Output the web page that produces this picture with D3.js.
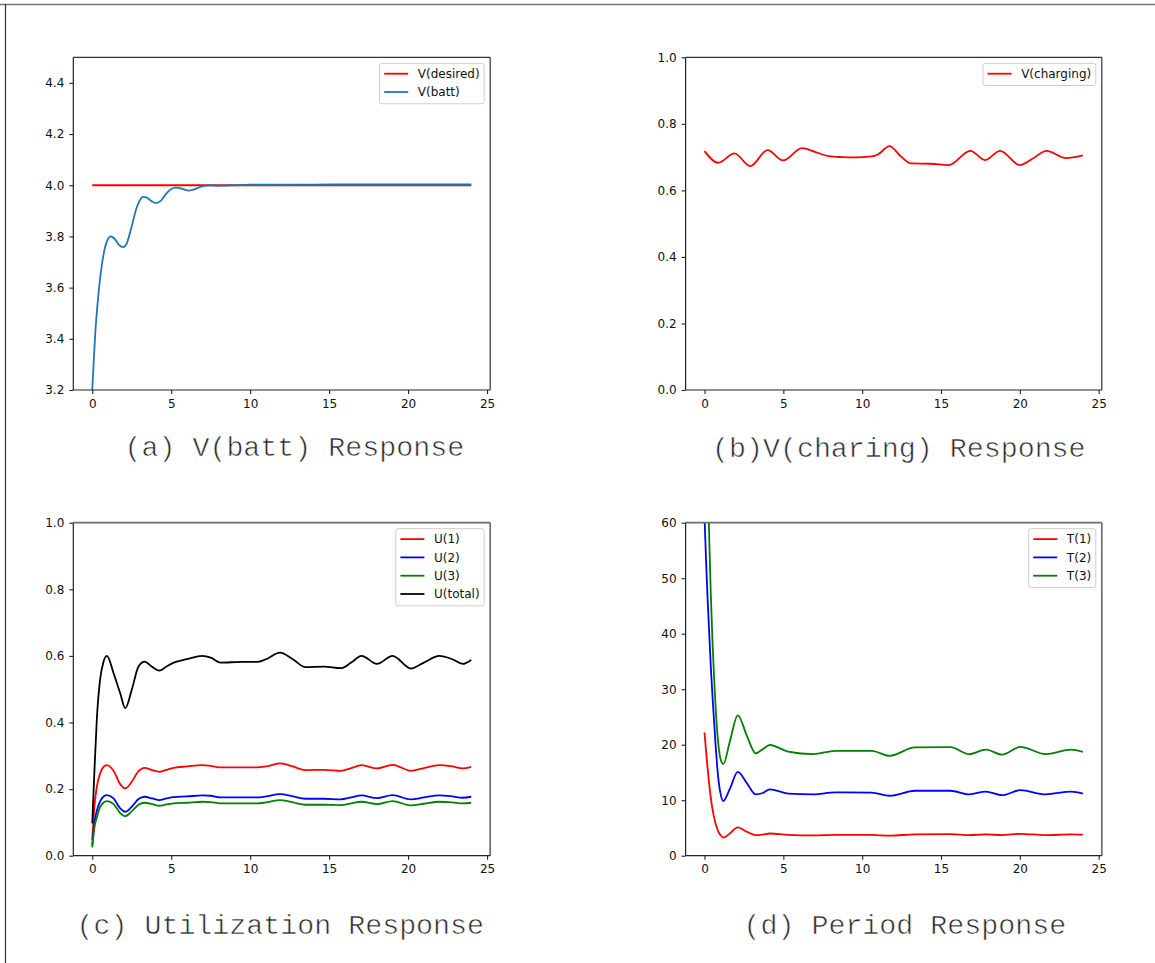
<!DOCTYPE html>
<html>
<head>
<meta charset="utf-8">
<script src="https://cdn.jsdelivr.net/npm/d3@7"></script>
<style>
  html, body { margin: 0; padding: 0; background: #fff; }
  svg { display: block; }
  .tick text { font-family: "DejaVu Sans", sans-serif; font-size: 12px; fill: #111; }
  .tick line { stroke: #222; }
  .legend text { font-family: "DejaVu Sans", sans-serif; font-size: 12px; fill: #111; }
  .caption { font-family: "Courier New", "Liberation Mono", monospace; font-size: 28.3px; fill: #2a2a2a;
             stroke: #fff; stroke-width: 0.6px; paint-order: normal; }
</style>
</head>
<body>
<svg id="fig" width="1155" height="963"></svg>
<script>
// ---------- data ----------
const xTicks = [0, 5, 10, 15, 20, 25];

// (a) battery voltage
const battT = [0, 0.1, 0.2, 0.3, 0.45, 0.6, 0.8, 1.0, 1.15, 1.4, 1.7, 1.95, 2.2, 2.5, 2.8, 3.0, 3.2, 3.45, 3.75, 4.05, 4.35, 4.7, 5.0, 5.3, 5.7, 6.1, 6.5, 7.0, 7.5, 8.0, 8.5, 9.0, 10, 12, 16, 20, 24];
const vBatt = [3.2, 3.32, 3.43, 3.51, 3.61, 3.685, 3.755, 3.79, 3.80, 3.792, 3.766, 3.758, 3.775, 3.84, 3.91, 3.94, 3.955, 3.952, 3.938, 3.93, 3.94, 3.968, 3.985, 3.991, 3.986, 3.979, 3.985, 3.997, 4.0, 3.998, 3.999, 4.0, 4.002, 4.002, 4.003, 4.003, 4.003];
const desiredT = [0, 24];
const vDesired = [4.0, 4.0];
const battTicks = [3.2, 3.4, 3.6, 3.8, 4.0, 4.2, 4.4];

// (b) charging voltage
const chargeT = [0, 0.86, 1.9, 2.9, 4.0, 4.98, 6.19, 7.0, 7.87, 8.7, 9.54, 10.6, 11.0, 11.74, 12.4, 13.1, 14.35, 15.5, 16.86, 17.8, 18.75, 20.0, 20.8, 21.7, 22.93, 24];
const vCharging = [0.718, 0.683, 0.711, 0.673, 0.721, 0.690, 0.727, 0.716, 0.703, 0.700, 0.699, 0.702, 0.708, 0.733, 0.705, 0.681, 0.680, 0.676, 0.719, 0.691, 0.719, 0.676, 0.695, 0.719, 0.697, 0.705];
const unitTicks = [0, 0.2, 0.4, 0.6, 0.8, 1.0];

// (c) utilization
const utilT = [0, 0.14, 0.29, 0.5, 0.7, 0.93, 1.35, 1.77, 2.09, 2.5, 2.93, 3.31, 3.8, 4.25, 4.7, 5.16, 6.0, 6.96, 7.5, 8.12, 9.5, 10.45, 11.0, 11.89, 12.7, 13.5, 14.68, 15.74, 16.4, 17.05, 18.03, 19.02, 20.18, 21.0, 21.98, 22.8, 23.46, 24];
const u1 = [0.047, 0.15, 0.207, 0.247, 0.266, 0.272, 0.255, 0.215, 0.202, 0.222, 0.254, 0.264, 0.257, 0.252, 0.258, 0.264, 0.268, 0.272, 0.270, 0.265, 0.265, 0.265, 0.268, 0.277, 0.268, 0.257, 0.258, 0.255, 0.263, 0.272, 0.262, 0.273, 0.255, 0.263, 0.272, 0.268, 0.262, 0.267];
const u2 = [0.032, 0.10, 0.135, 0.163, 0.177, 0.182, 0.172, 0.142, 0.132, 0.147, 0.170, 0.177, 0.172, 0.167, 0.172, 0.176, 0.178, 0.181, 0.180, 0.175, 0.175, 0.175, 0.178, 0.185, 0.178, 0.171, 0.171, 0.169, 0.175, 0.181, 0.173, 0.182, 0.169, 0.175, 0.181, 0.178, 0.174, 0.177];
const u3 = [0.025, 0.085, 0.115, 0.146, 0.159, 0.164, 0.155, 0.128, 0.119, 0.133, 0.153, 0.159, 0.155, 0.150, 0.154, 0.157, 0.159, 0.162, 0.161, 0.157, 0.157, 0.157, 0.160, 0.167, 0.160, 0.153, 0.153, 0.152, 0.157, 0.162, 0.155, 0.164, 0.151, 0.156, 0.162, 0.160, 0.157, 0.159];
const uTotal = [0.097, 0.257, 0.41, 0.53, 0.58, 0.60, 0.548, 0.488, 0.443, 0.498, 0.568, 0.583, 0.567, 0.556, 0.568, 0.58, 0.59, 0.60, 0.595, 0.58, 0.582, 0.582, 0.59, 0.61, 0.59, 0.566, 0.568, 0.563, 0.58, 0.60, 0.576, 0.60, 0.562, 0.58, 0.60, 0.59, 0.576, 0.588];

// (d) task periods
const periodT = [0, 0.1, 0.2, 0.3, 0.4, 0.5, 0.6, 0.7, 0.8, 0.9, 1.0, 1.19, 1.6, 2.11, 2.7, 3.25, 3.7, 4.14, 5.3, 6.9, 8.3, 10.6, 11.74, 13.35, 15.6, 16.8, 17.84, 18.88, 20.03, 21.64, 23.25, 24];
const t1 = [22.2, 18.8, 15.6, 12.8, 10.4, 8.5, 7.0, 5.8, 4.9, 4.2, 3.75, 3.25, 4.0, 5.1, 4.3, 3.7, 3.8, 4.0, 3.75, 3.65, 3.75, 3.75, 3.6, 3.85, 3.9, 3.7, 3.85, 3.7, 3.95, 3.7, 3.85, 3.8];
const t2 = [61, 53, 46, 40, 34, 29, 24.5, 20, 16.2, 13.3, 11.4, 9.85, 12.0, 15.1, 13.0, 11.05, 11.3, 11.95, 11.2, 11.05, 11.4, 11.35, 10.8, 11.7, 11.7, 11.05, 11.55, 10.9, 11.8, 11.05, 11.55, 11.2];
const t3 = [100, 85, 70, 57, 47, 39, 32.5, 27, 22.5, 19.5, 17.6, 16.5, 20.5, 25.3, 21.5, 18.45, 19.2, 19.95, 18.75, 18.3, 18.9, 18.9, 18.0, 19.5, 19.55, 18.3, 19.1, 18.2, 19.6, 18.3, 19.1, 18.7];
const periodTicks = [0, 10, 20, 30, 40, 50, 60];

// ---------- layout ----------
const svg = d3.select("#fig");
const LW = 1.8;

const panels = [
  { id: "a", left: 73.3, top: 57.3, width: 416.9, height: 332.7, yDomain: [3.2, 4.5], yTicks: battTicks,
    fmt: d3.format(".1f"), fadedFrame: false,
    caption: "(a) V(batt) Response", capX: 124.5, capY: 456,
    series: [
      { name: "V(desired)", t: desiredT, v: vDesired, color: "#ff0000" },
      { name: "V(batt)", t: battT, v: vBatt, color: "#1f77b4" }
    ] },
  { id: "b", left: 685.6, top: 57.3, width: 416.2, height: 332.7, yDomain: [0, 1], yTicks: unitTicks,
    fmt: d3.format(".1f"), fadedFrame: false,
    caption: "(b)V(charing) Response", capX: 712, capY: 456.5,
    series: [
      { name: "V(charging)", t: chargeT, v: vCharging, color: "#ff0000" }
    ] },
  { id: "c", left: 73.3, top: 522.7, width: 416.9, height: 333, yDomain: [0, 1], yTicks: unitTicks,
    fmt: d3.format(".1f"), fadedFrame: true,
    caption: "(c) Utilization Response", capX: 76.5, capY: 934,
    series: [
      { name: "U(1)", t: utilT, v: u1, color: "#ff0000" },
      { name: "U(2)", t: utilT, v: u2, color: "#0000ff" },
      { name: "U(3)", t: utilT, v: u3, color: "#008000" },
      { name: "U(total)", t: utilT, v: uTotal, color: "#000000" }
    ] },
  { id: "d", left: 685.6, top: 522.7, width: 416.2, height: 333, yDomain: [0, 60], yTicks: periodTicks,
    fmt: d3.format("d"), fadedFrame: true,
    caption: "(d) Period Response", capX: 743.5, capY: 934,
    series: [
      { name: "T(1)", t: periodT, v: t1, color: "#ff0000" },
      { name: "T(2)", t: periodT, v: t2, color: "#0000ff" },
      { name: "T(3)", t: periodT, v: t3, color: "#008000" }
    ] }
];

// page frame along the top and left edges
svg.append("line").attr("x1", 0).attr("x2", 1155).attr("y1", 4.5).attr("y2", 4.5)
  .attr("stroke", "#777").attr("stroke-width", 1.5);
svg.append("line").attr("x1", 5.5).attr("x2", 5.5).attr("y1", 4).attr("y2", 963)
  .attr("stroke", "#333").attr("stroke-width", 1.2);

const defs = svg.append("defs");

panels.forEach(p => {
  const x = d3.scaleLinear().domain([-1.2, 25.2]).range([0, p.width]);
  const y = d3.scaleLinear().domain(p.yDomain).range([p.height, 0]);
  const g = svg.append("g").attr("transform", `translate(${p.left},${p.top})`);

  defs.append("clipPath").attr("id", "clip-" + p.id)
    .append("rect").attr("x", 0).attr("y", 0).attr("width", p.width).attr("height", p.height);

  // series
  const line = d3.line()
    .x(d => x(d[0]))
    .y(d => y(d[1]))
    .curve(d3.curveMonotoneX);
  const plot = g.append("g").attr("clip-path", `url(#clip-${p.id})`);
  p.series.forEach(s => {
    plot.append("path")
      .datum(s.t.map((t, i) => [t, s.v[i]]))
      .attr("d", line)
      .attr("fill", "none")
      .attr("stroke", s.color)
      .attr("stroke-width", LW)
      .attr("stroke-linejoin", "round");
  });

  // axes
  const xAxis = d3.axisBottom(x).tickValues(xTicks).tickSize(4).tickPadding(5).tickSizeOuter(0);
  const yAxis = d3.axisLeft(y).tickValues(p.yTicks).tickFormat(p.fmt).tickSize(4).tickPadding(5).tickSizeOuter(0);
  const gx = g.append("g").attr("transform", `translate(0,${p.height})`).call(xAxis);
  const gy = g.append("g").call(yAxis);
  gx.select(".domain").remove();
  gy.select(".domain").remove();
  gx.selectAll(".tick line").attr("stroke-width", 1.1);
  gy.selectAll(".tick line").attr("stroke-width", 1.1);

  // spines
  const dark = "#222", faded = p.fadedFrame ? "#6e6e6e" : "#333";
  const fw = p.fadedFrame ? 1.7 : 1.2;
  g.append("line").attr("x1", 0).attr("x2", p.width).attr("y1", 0).attr("y2", 0).attr("stroke", faded).attr("stroke-width", fw);
  g.append("line").attr("x1", p.width).attr("x2", p.width).attr("y1", 0).attr("y2", p.height).attr("stroke", faded).attr("stroke-width", fw);
  g.append("line").attr("x1", 0).attr("x2", 0).attr("y1", 0).attr("y2", p.height).attr("stroke", dark).attr("stroke-width", 1.2);
  g.append("line").attr("x1", 0).attr("x2", p.width).attr("y1", p.height).attr("y2", p.height).attr("stroke", dark).attr("stroke-width", 1.2);

  // legend, upper right
  const lg = g.append("g").attr("class", "legend");
  const rowH = 18.3, firstRow = 10.4, pad = 4.6, handle = 24, gap = 9.6;
  const texts = p.series.map((s, i) => lg.append("text")
    .attr("y", 6 + firstRow + i * rowH).attr("dy", "0.35em").text(s.name));
  const tw = d3.max(texts, t => t.node().getComputedTextLength());
  const boxW = pad + handle + gap + tw + pad;
  const boxH = firstRow + (p.series.length - 1) * rowH + 11.8;
  const bx = p.width - 6 - boxW, by = 6;
  lg.insert("rect", "text")
    .attr("x", bx).attr("y", by).attr("width", boxW).attr("height", boxH)
    .attr("rx", 2.5).attr("fill", "#fff").attr("fill-opacity", 0.8)
    .attr("stroke", "#cccccc").attr("stroke-width", 1);
  p.series.forEach((s, i) => {
    const ly = by + firstRow + i * rowH;
    lg.insert("line", "text").attr("x1", bx + pad).attr("x2", bx + pad + handle)
      .attr("y1", ly).attr("y2", ly).attr("stroke", s.color).attr("stroke-width", LW);
  });
  texts.forEach(t => t.attr("x", bx + pad + handle + gap));

  // caption
  svg.append("text").attr("class", "caption")
    .attr("x", p.capX).attr("y", p.capY).text(p.caption);
});
</script>
</body>
</html>
